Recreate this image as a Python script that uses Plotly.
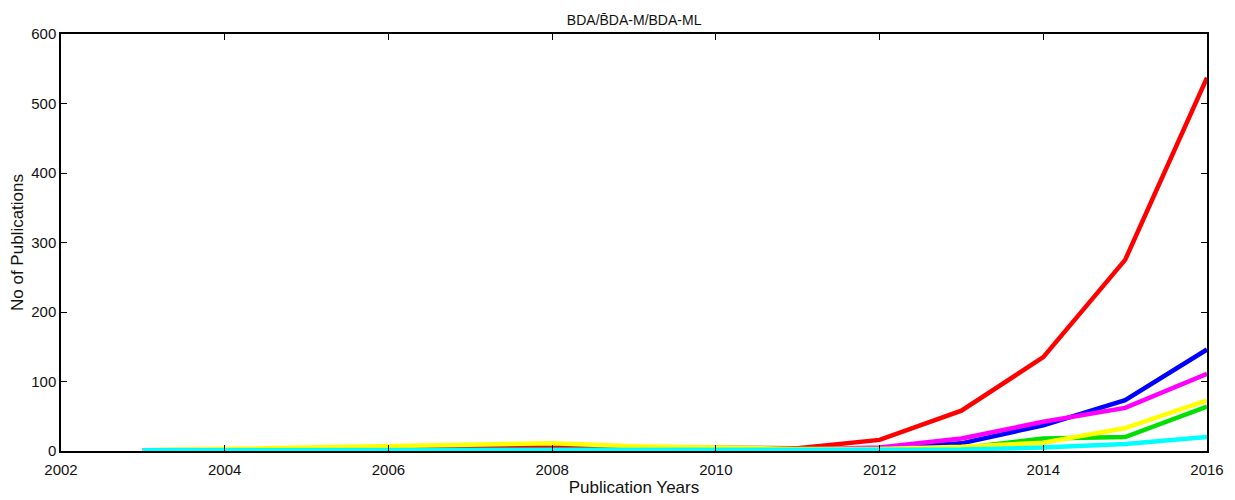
import plotly.graph_objects as go

years = list(range(2003, 2017))
red = [1, 1, 2, 3, 5, 8, 5, 4, 4, 16, 58, 135, 275, 537]
blue = [1, 1, 1, 1, 1, 1, 1, 1, 2, 3, 11, 37, 73, 146]
magenta = [1, 1, 1, 1, 1, 1, 1, 1, 2, 5, 18, 42, 62, 111]
green = [1, 1, 1, 1, 1, 1, 1, 1, 1, 2, 4, 18, 20, 64]
yellow = [1, 3, 5, 6, 9, 11, 7, 5, 3, 3, 6, 12, 33, 73]
cyan = [1, 1, 1, 1, 1, 1, 1, 1, 1, 1, 2, 5, 10, 20]

series = [
    ("red", red, "#ff0000"),
    ("blue", blue, "#0000ff"),
    ("magenta", magenta, "#ff00ff"),
    ("green", green, "#00e000"),
    ("yellow", yellow, "#ffff00"),
    ("cyan", cyan, "#00ffff"),
]

x_ticks = list(range(2002, 2017, 2))
y_ticks = list(range(0, 601, 100))

fig = go.Figure()
for name, vals, col in series:
    fig.add_trace(go.Scatter(x=years, y=vals, mode="lines", name=name,
                             line=dict(color=col, width=4.5)))

font = "Liberation Sans, Arial"
fig.update_layout(
    width=1235, height=500,
    margin=dict(l=53, r=36, t=26, b=57, autoexpand=False),
    paper_bgcolor="white", plot_bgcolor="white",
    showlegend=False,
    title=dict(text="BDA/B\u0304DA-M/BDA-ML", x=0.507, xanchor="center",
               y=0.976, yanchor="middle",
               font=dict(family=font, size=14, color="#111")),
    xaxis=dict(range=[2002, 2016], tickvals=x_ticks,
               ticktext=[str(v) for v in x_ticks], automargin=False,
               showline=True, linecolor="black", linewidth=1.5, mirror="ticks",
               ticks="inside", ticklen=6, tickcolor="black", showgrid=False,
               zeroline=False, ticklabelstandoff=4,
               tickfont=dict(family=font, size=15, color="#111"),
               title=dict(text="Publication Years", standoff=3,
                          font=dict(family=font, size=17, color="#111"))),
    yaxis=dict(range=[0, 600], tickvals=y_ticks, automargin=False,
               showline=True, linecolor="black", linewidth=1.5, mirror="ticks",
               ticks="inside", ticklen=6, tickcolor="black", showgrid=False,
               zeroline=False,
               tickfont=dict(family=font, size=15, color="#111"),
               title=dict(text="No of Publications", standoff=6,
                          font=dict(family=font, size=17, color="#111"))),
)

fig.write_html("out.html")
